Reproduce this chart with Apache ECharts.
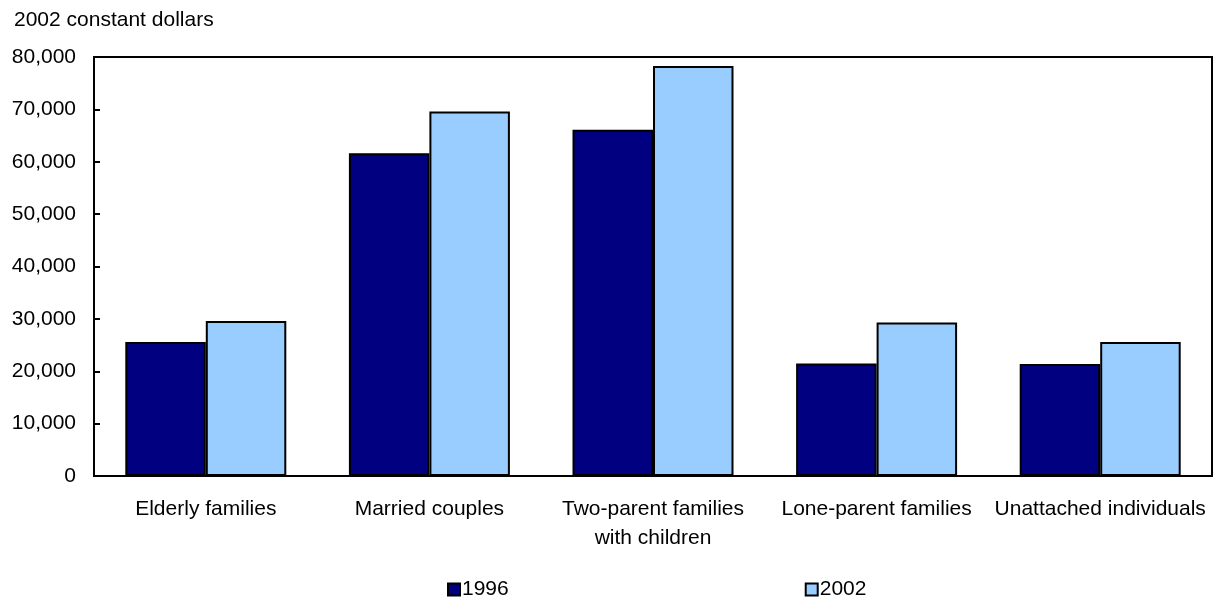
<!DOCTYPE html>
<html>
<head>
<meta charset="utf-8">
<script src="https://cdn.jsdelivr.net/npm/echarts@6/dist/echarts.min.js"></script>
<style>
  html, body { margin: 0; padding: 0; background: #fff; }
  #chart { width: 1226px; height: 603px; }
</style>
</head>
<body>
<div id="chart"></div>
<script>
// Median after-tax income by family type, 2002 constant dollars
const categories = [
  'Elderly families',
  'Married couples',
  'Two-parent families\nwith children',
  'Lone-parent families',
  'Unattached individuals'
];
const income1996 = [25600, 61600, 66100, 21500, 21400];
const income2002 = [29600, 69600, 78300, 29300, 25600];
const seriesNames = ['1996', '2002'];
const unitLabel = '2002 constant dollars';

const FONT = '"Liberation Sans", Arial, sans-serif';

const chart = echarts.init(document.getElementById('chart'), null, { renderer: 'canvas' });

chart.setOption({
  animation: false,
  backgroundColor: '#ffffff',
  textStyle: { fontFamily: FONT, color: '#000' },
  title: {
    text: unitLabel,
    left: 9,
    top: 5,
    textStyle: { fontFamily: FONT, fontSize: 21, fontWeight: 'normal', color: '#000' }
  },
  legend: {
    data: seriesNames,
    left: 442,
    top: 574,
    itemWidth: 12,
    itemHeight: 12,
    itemGap: 296,
    icon: 'rect',
    textStyle: { fontFamily: FONT, fontSize: 21, color: '#000', padding: [0, 0, 0, -3] }
  },
  grid: {
    left: 94,
    right: 14,
    top: 57,
    bottom: 127,
    show: true,
    borderColor: '#000',
    borderWidth: 2,
    backgroundColor: 'transparent',
    containLabel: false
  },
  xAxis: {
    type: 'category',
    data: categories,
    axisLine: { lineStyle: { color: '#000', width: 2 } },
    axisTick: { show: false },
    axisLabel: {
      interval: 0,
      margin: 19,
      fontFamily: FONT,
      fontSize: 21,
      color: '#000',
      lineHeight: 29
    }
  },
  yAxis: {
    type: 'value',
    min: 0,
    max: 80000,
    interval: 10000,
    axisLine: { show: true, lineStyle: { color: '#000', width: 2 } },
    axisTick: { show: true, inside: true, length: 6, lineStyle: { color: '#000', width: 2 } },
    splitLine: { show: false },
    axisLabel: {
      margin: 18,
      fontFamily: FONT,
      fontSize: 21,
      color: '#000',
      formatter: v => v.toLocaleString('en-US')
    }
  },
  series: [
    {
      name: seriesNames[0],
      type: 'bar',
      data: income1996,
      barGap: '0%',
      barCategoryGap: '28%',
      itemStyle: { color: '#000080', borderColor: '#000', borderWidth: 2 }
    },
    {
      name: seriesNames[1],
      type: 'bar',
      data: income2002,
      itemStyle: { color: '#99CCFF', borderColor: '#000', borderWidth: 2 }
    }
  ]
});
</script>
</body>
</html>
